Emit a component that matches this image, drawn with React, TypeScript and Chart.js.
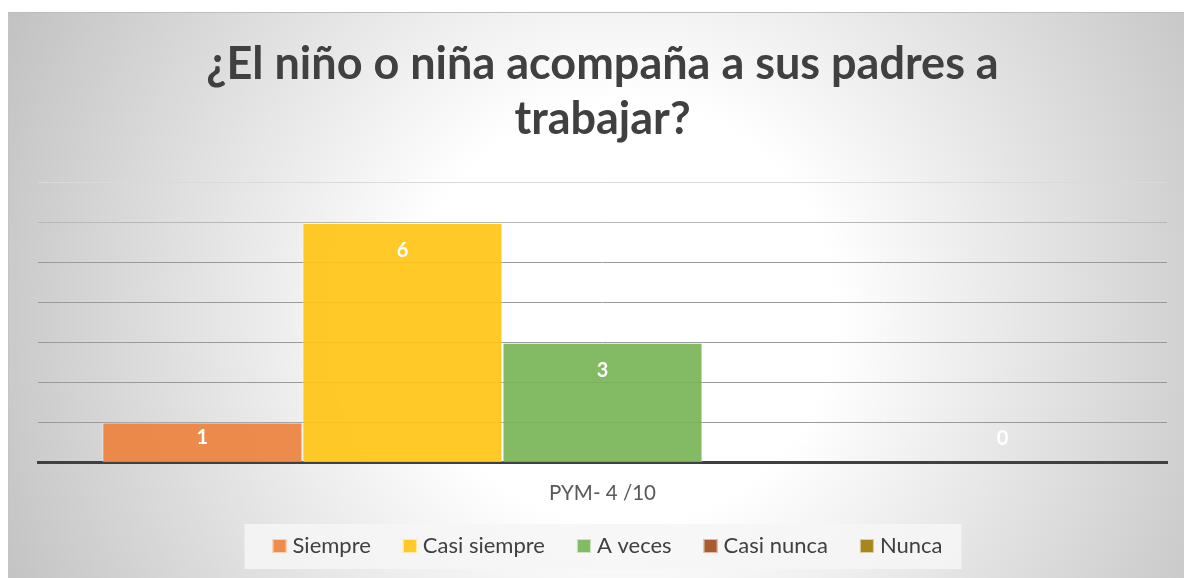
import React, { useEffect, useRef } from "react";
import { Chart, registerables } from "chart.js";

Chart.register(...registerables);

const titleLines = ["¿El niño o niña acompaña a sus padres a", "trabajar?"];
const categories = ["PYM- 4 /10"];
const seriesNames = ["Siempre", "Casi siempre", "A veces", "Casi nunca", "Nunca"];
const siempre = [1];
const casiSiempre = [6];
const aVeces = [3];
const casiNunca = [0];
const nunca = [0];
const seriesValues = [siempre, casiSiempre, aVeces, casiNunca, nunca];
const seriesColors = [
  "rgba(235,130,61,0.92)",
  "rgba(255,196,21,0.92)",
  "rgba(120,180,87,0.92)",
  "rgba(162,78,27,0.92)",
  "rgba(161,124,8,0.92)",
];
const yMax = 7;
const yStep = 1;

const FONT = "Lato";
const W = 1175;
const H = 565;

const customLegendPlugin = {
  id: "customLegend",
  afterDraw(chart: any) {
    const ctx = chart.ctx;
    const font = `22px ${FONT}`;
    const box = 14;
    const gapBoxText = 6;
    const gapItems = 32;
    ctx.save();
    ctx.font = font;
    const widths = seriesNames.map((n) => ctx.measureText(n).width);
    const total =
      widths.reduce((a, w) => a + box + gapBoxText + w, 0) + gapItems * (seriesNames.length - 1);
    const ca = chart.chartArea;
    const cx = (ca.left + ca.right) / 2 + 5;
    const startX = cx - total / 2;
    const cy = 533;
    ctx.fillStyle = "rgba(246,246,246,0.85)";
    ctx.fillRect(startX - 28, cy - 22, total + 47, 45);
    let x = startX;
    seriesNames.forEach((n, i) => {
      ctx.fillStyle = seriesColors[i];
      ctx.fillRect(x, cy - box / 2, box, box);
      ctx.strokeStyle = "rgba(255,255,255,0.6)";
      ctx.lineWidth = 1;
      ctx.strokeRect(x + 0.5, cy - box / 2 + 0.5, box - 1, box - 1);
      ctx.fillStyle = "#404040";
      ctx.textAlign = "left";
      ctx.textBaseline = "middle";
      ctx.fillText(n, x + box + gapBoxText, cy);
      x += box + gapBoxText + widths[i] + gapItems;
    });
    ctx.restore();
  },
};

const dataLabelPlugin = {
  id: "dataLabels",
  afterDatasetsDraw(chart: any) {
    const ctx = chart.ctx;
    ctx.save();
    ctx.font = `bold 20px ${FONT}`;
    ctx.fillStyle = "#ffffff";
    ctx.textAlign = "center";
    ctx.textBaseline = "middle";
    chart.data.datasets.forEach((ds: any, i: number) => {
      const meta = chart.getDatasetMeta(i);
      meta.data.forEach((el: any, j: number) => {
        const v = ds.data[j];
        const y = Math.min(el.y + 28, el.base - 24);
        ctx.fillText(String(v), el.x, y);
      });
    });
    ctx.restore();
  },
};

export default function App() {
  const ref = useRef<HTMLCanvasElement | null>(null);
  useEffect(() => {
    if (!ref.current) return;
    Chart.defaults.font.family = FONT;
    const chart = new Chart(ref.current, {
      type: "bar",
      data: {
        labels: categories,
        datasets: seriesNames.map((name, i) => ({
          label: name,
          data: seriesValues[i],
          backgroundColor: seriesColors[i],
          borderColor: "rgba(255,255,255,0.55)",
          borderWidth: 1,
          categoryPercentage: 0.886,
          barPercentage: 1,
        })),
      },
      options: {
        responsive: false,
        animation: false,
        layout: { padding: { left: 29, right: 17, top: 0, bottom: 53 } },
        plugins: {
          title: {
            display: true,
            text: titleLines,
            color: "#404040",
            font: { family: FONT, size: 45, weight: "bold", lineHeight: 1.244 },
            padding: { top: 23, bottom: 35 },
          },
          legend: { display: false },
          tooltip: { enabled: false },
        },
        scales: {
          x: {
            grid: { display: false, drawTicks: false },
            border: { display: true, color: "#404040", width: 3 },
            ticks: { color: "#595959", font: { family: FONT, size: 20.5 }, padding: 19 },
          },
          y: {
            min: 0,
            max: yMax,
            ticks: { display: false, stepSize: yStep },
            border: { display: false },
            grid: {
              drawTicks: false,
              color: (c: any) =>
                c.tick && c.tick.value === yMax
                  ? "#dadada"
                  : c.tick && c.tick.value === yMax - 1
                  ? "#b8b8b8"
                  : c.tick && c.tick.value === 0
                  ? "rgba(0,0,0,0)"
                  : "#9a9a9a",
              lineWidth: 1,
            },
          },
        },
      },
      plugins: [dataLabelPlugin, customLegendPlugin],
    });
    return () => chart.destroy();
  }, []);

  return (
    <div
      style={{
        position: "absolute",
        left: 8,
        top: 12,
        width: 1176,
        height: 566,
        boxSizing: "border-box",
        borderTop: "1px solid #bdbdbd",
        borderLeft: "1px solid #c4c4c4",
        background:
          "radial-gradient(circle at 615px 300px, #ffffff 0px, #ffffff 210px, #cacaca 620px, #bdbdbd 720px)",
        overflow: "hidden",
      }}
    >
      <canvas ref={ref} width={W} height={H} style={{ display: "block" }} />
    </div>
  );
}
